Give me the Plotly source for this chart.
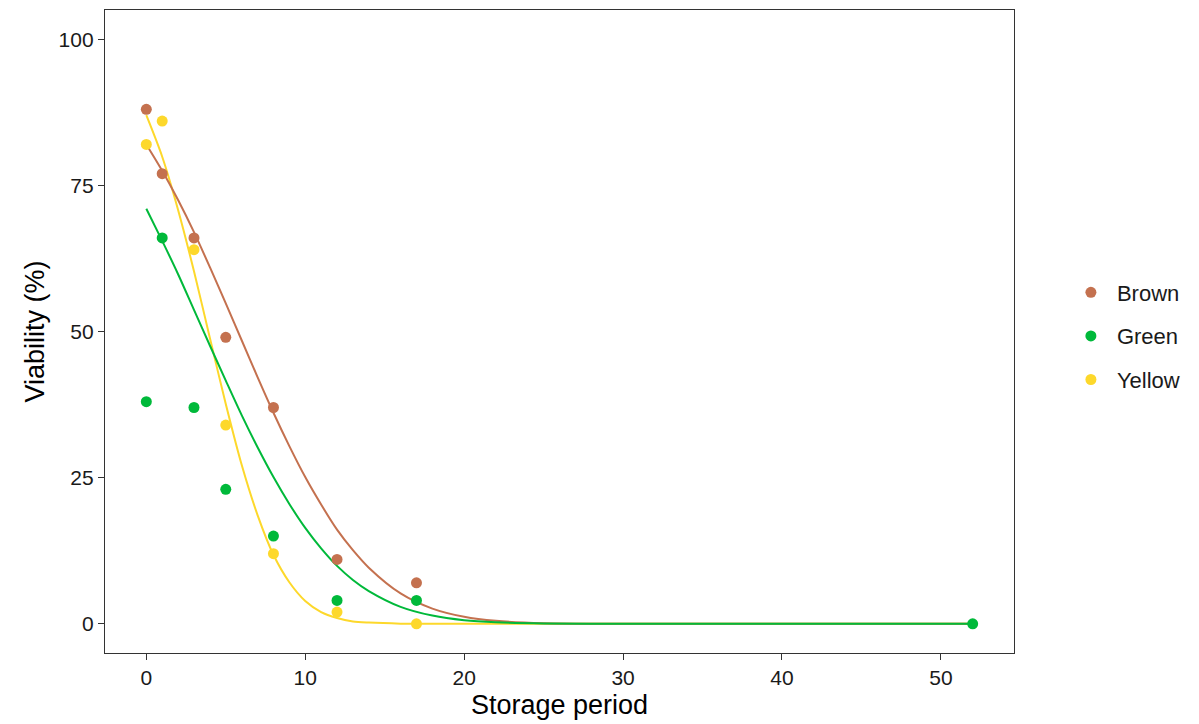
import plotly.graph_objects as go

# Observed data points
brown_x = [0, 1, 3, 5, 8, 12, 17]
brown_y = [88, 77, 66, 49, 37, 11, 7]
green_x = [0, 1, 3, 5, 8, 12, 17, 52]
green_y = [38, 66, 37, 23, 15, 4, 4, 0]
yellow_x = [0, 1, 3, 5, 8, 12, 17]
yellow_y = [82, 86, 64, 34, 12, 2, 0]

# Fitted curves
curve_x = [0, 1, 2, 3, 4, 5, 6, 7, 8, 9, 10, 11, 12, 13, 14, 16, 18, 20, 22, 25, 30, 40, 52]
brown_fit = [82.0, 77.5, 72.5, 67.0, 61.0, 54.8, 48.5, 42.2, 36.1, 30.4, 25.1, 20.4, 16.1,
             12.6, 9.6, 5.2, 2.6, 1.2, 0.5, 0.1, 0, 0, 0]
green_fit = [71.0, 65.5, 59.8, 53.7, 47.6, 41.6, 35.7, 30.2, 25.1, 20.5, 16.4, 12.9, 9.9,
             7.5, 5.6, 2.9, 1.4, 0.6, 0.24, 0.05, 0, 0, 0]
yellow_fit = [87.0, 79.9, 70.8, 60.3, 48.9, 37.6, 27.2, 18.6, 11.8, 7.1, 3.9, 2.0, 1.0,
              0.4, 0.2, 0.02, 0, 0, 0, 0, 0, 0, 0]

x_ticks = [0, 10, 20, 30, 40, 50]
y_ticks = [0, 25, 50, 75, 100]

BROWN = "#C4714F"
GREEN = "#00B93A"
YELLOW = "#FDD82B"
FONT = "Liberation Sans, Arial, sans-serif"

fig = go.Figure()

for name, fit, col in [("Yellow", yellow_fit, YELLOW), ("Brown", brown_fit, BROWN), ("Green", green_fit, GREEN)]:
    fig.add_trace(go.Scatter(x=curve_x, y=fit, mode="lines", line=dict(color=col, width=2, shape="spline", smoothing=0.8),
                             showlegend=False, hoverinfo="skip"))

for i, (name, xs, ys, col) in enumerate([("Brown", brown_x, brown_y, BROWN),
                                          ("Green", green_x, green_y, GREEN),
                                          ("Yellow", yellow_x, yellow_y, YELLOW)]):
    fig.add_trace(go.Scatter(x=xs, y=ys, mode="markers", name=name, legendgroup=name, legendrank=i + 1,
                             marker=dict(color=col, size=11, line=dict(width=0))))

fig.update_layout(
    width=1199, height=724,
    margin=dict(l=105, r=185, t=10, b=71),
    paper_bgcolor="white", plot_bgcolor="white",
    font=dict(family=FONT, color="#1a1a1a"),
    legend=dict(x=1.056, y=0.493, xanchor="left", yanchor="middle",
                font=dict(size=22, color="#1a1a1a", family=FONT),
                tracegroupgap=12, itemwidth=42, bgcolor="rgba(0,0,0,0)"),
)

axis_common = dict(showgrid=False, zeroline=False, showline=True, mirror=True,
                   linecolor="#333333", linewidth=1.3, ticks="outside", ticklen=6,
                   tickwidth=1.2, tickcolor="#333333",
                   tickfont=dict(size=21, color="#1a1a1a", family=FONT))

fig.update_xaxes(range=[-2.6, 54.6], tickvals=x_ticks,
                 title=dict(text="Storage period", font=dict(size=27, family=FONT, color="#000"), standoff=6),
                 **axis_common)
fig.update_yaxes(range=[-5, 105], tickvals=y_ticks,
                 title=dict(text="Viability (%)", font=dict(size=27, family=FONT, color="#000"), standoff=6),
                 **axis_common)

fig.write_html("out.html")
